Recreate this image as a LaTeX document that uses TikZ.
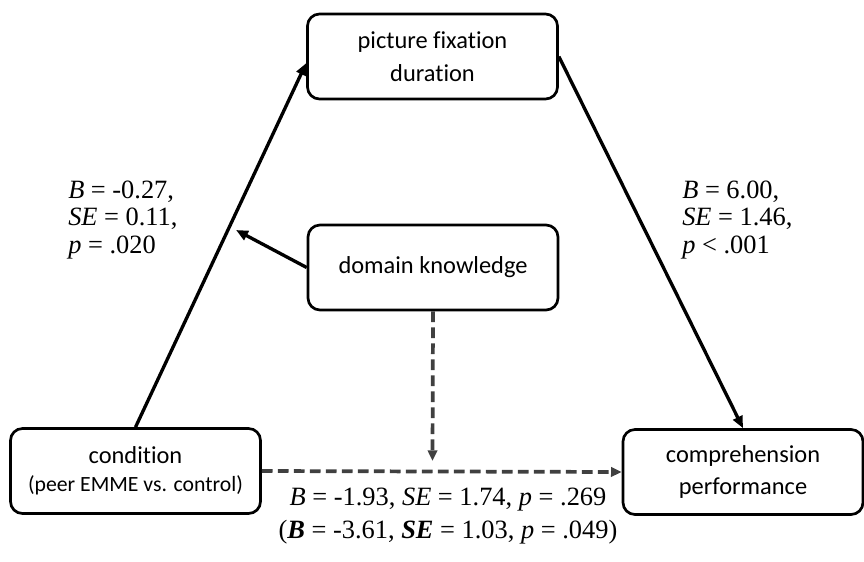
\documentclass[tikz,border=0pt]{standalone}
\usepackage{fontspec}
\setmainfont{Liberation Serif}
\newfontfamily\calibri[Ligatures=NoCommon]{Carlito}
\usetikzlibrary{arrows.meta}
\definecolor{dashgray}{HTML}{404040}

\begin{document}
\begin{tikzpicture}[
  x=0.75pt, y=-0.75pt,
  box/.style={draw, line width=2pt, rounded corners=9pt, align=center, minimum width=187.5pt, minimum height=63.75pt, inner sep=0pt, font=\calibri\fontsize{18.3}{24.5}\selectfont},
  arrow/.style={-{Triangle[length=9pt,width=7.5pt]}, line width=2.5pt},
  dasharrow/.style={-{Triangle[length=8pt,width=7pt]}, line width=2.8pt, draw=dashgray, dash pattern=on 8pt off 4pt},
  stats/.style={align=left, inner sep=0pt, font=\fontsize{19.8}{20.6}\selectfont}
]
\useasboundingbox (0,0) rectangle (864,561);
\node[box] (pic) at (432.5,56.5) {picture fixation\\duration};
\node[box] (dk) at (433,267.5) {domain knowledge};
\node[box] (cond) at (135.5,471) {condition\\[-3.5pt]{\fontsize{16.3}{21}\selectfont (peer EMME vs. control)}};
\node[box, minimum width=180pt] (comp) at (743,472) {comprehension\\performance};
\node[stats, anchor=west] (apath) at (68,220) {\textit{B} = -0.27,\\\textit{SE} = 0.11,\\\textit{p} = .020};
\node[stats, anchor=west] (bpath) at (682,220) {\textit{B} = 6.00,\\\textit{SE} = 1.46,\\\textit{p} < .001};
\node[stats, align=center, font=\fontsize{19.8}{24.75}\selectfont] (cpath) at (448,516) {\textit{B} = -1.93, \textit{SE} = 1.74, \textit{p} = .269\\(\textbf{\textit{B}} = -3.61, \textbf{\textit{SE}} = 1.03, \textit{p} = .049)};
\coordinate (modtip) at (236,230);
\coordinate (dktip) at (432.5,461);
\draw[arrow] (cond.north) -- (pic.183);
\draw[arrow] (pic.east) -- (comp.north);
\draw[arrow] (dk.west) -- (modtip);
\draw[dasharrow] (dk.south) -- (dktip);
\draw[dasharrow] (cond.east) -- (comp.west);
\end{tikzpicture}
\end{document}
